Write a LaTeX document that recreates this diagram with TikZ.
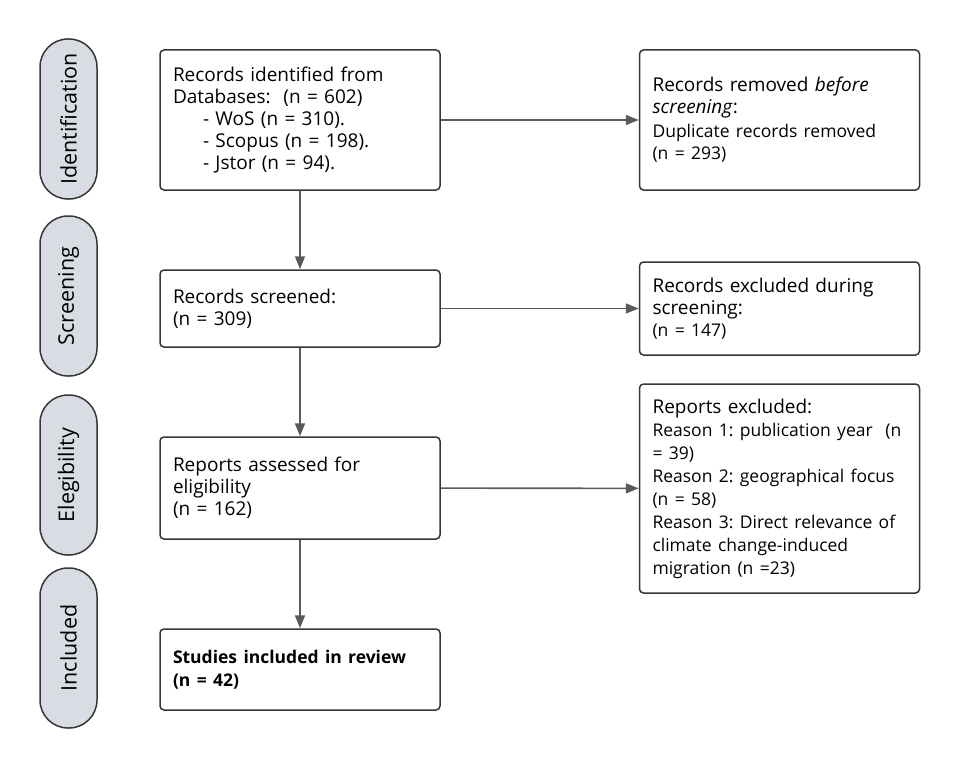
\documentclass[tikz,border=0pt]{standalone}
\usepackage{fontspec}
\setmainfont{Open Sans}
\usetikzlibrary{arrows.meta}
\definecolor{boxline}{HTML}{363636}
\definecolor{arrowc}{HTML}{5A5A5A}
\definecolor{pillfill}{HTML}{D9DCE2}
\tikzset{
  box/.style={draw=boxline, line width=1.5pt, rounded corners=4pt, fill=white,
    text width=254pt, inner xsep=13pt, inner ysep=0pt, align=left,
    font=\fontsize{19}{22}\selectfont},
  pill/.style={draw=boxline, line width=1.5pt, rounded corners=28pt, fill=pillfill,
    minimum width=160pt, minimum height=57pt, rotate=90, inner sep=0pt,
    font=\fontsize{21.5}{24}\selectfont},
  conn/.style={draw=arrowc, line width=1.6pt, -{Triangle[length=13pt,width=10pt]}}
}
\newcommand{\smalltxt}{\fontsize{17.5}{22}\selectfont}
\newcommand{\boldtxt}{\fontsize{17.5}{23}\selectfont\bfseries}
\begin{document}
\frenchspacing
\begin{tikzpicture}[x=1pt,y=-1pt]
\useasboundingbox (0,0) rectangle (960,770);
% phase pills
\node[pill] (p1) at (68.5,119) {Identification};
\node[pill] (p2) at (68.5,296) {Screening};
\node[pill] (p3) at (68.5,475) {Elegibility};
\node[pill] (p4) at (68.5,648) {Included};
% main column
\node[box, minimum height=140pt] (b1) at (300,120) {Records identified from\\Databases:\ \ (n = 602)\\
\hspace*{30pt}- WoS (n = 310).\\\hspace*{30pt}- Scopus (n = 198).\\\hspace*{30pt}- Jstor (n = 94).};
\node[box, minimum height=77pt] (b2) at (300,308.5) {Records screened:\\(n = 309)};
\node[box, minimum height=102pt] (b3) at (300,488) {Reports assessed for\\eligibility\\(n = 162)};
\node[box, minimum height=81pt] (b4) at (300,669.5) {{\boldtxt Studies included in review\\(n = 42)\par}};
% right column
\node[box, minimum height=140pt] (r1) at (779.5,120) {Records removed \textit{before}\\\textit{screening}:\\[2pt]
{\smalltxt Duplicate records removed\\(n = 293)}};
\node[box, minimum height=93pt] (r2) at (779.5,308.5) {Records excluded during\\screening:\\{\smalltxt (n = 147)}};
\node[box, minimum height=209pt] (r3) at (779.5,488.5) {Reports excluded:\\
{\smalltxt\baselineskip=23pt Reason 1: publication year\ \ (n\\= 39)\\Reason 2: geographical focus\\(n = 58)\\Reason 3: Direct relevance of\\climate change-induced\\migration (n =23)\par}};
% connectors
\draw[conn] (b1) -- (b2);
\draw[conn] (b2) -- (b3);
\draw[conn] (b3) -- (b4);
\draw[conn] (b1) -- (r1);
\draw[conn] (b2) -- (r2);
\draw[conn] (b3) -- (r3);
\end{tikzpicture}
\end{document}
